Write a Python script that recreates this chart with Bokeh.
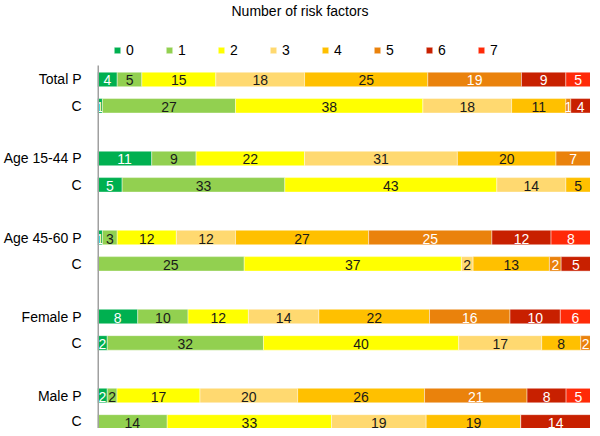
from bokeh.plotting import figure
from bokeh.models import ColumnDataSource, Range1d, FixedTicker, Legend, LegendItem
from bokeh.embed import file_html
from bokeh.resources import INLINE
from bokeh.core.properties import value

# ---- data ----
row_labels = ["Total P", "C", "Age 15-44 P", "C", "Age 45-60 P", "C",
              "Female P", "C", "Male P", "C"]
row_pos = [0, 1, 3, 4, 6, 7, 9, 10, 12, 13]
factors = ["0", "1", "2", "3", "4", "5", "6", "7"]
rf0 = [4, 1, 11, 5, 1, 0, 8, 2, 2, 0]
rf1 = [5, 27, 9, 33, 3, 25, 10, 32, 2, 14]
rf2 = [15, 38, 22, 43, 12, 37, 12, 40, 17, 33]
rf3 = [18, 18, 31, 14, 12, 2, 14, 17, 20, 19]
rf4 = [25, 11, 20, 5, 27, 13, 22, 8, 26, 19]
rf5 = [19, 1, 7, 0, 25, 2, 16, 2, 21, 0]
rf6 = [9, 4, 0, 0, 12, 5, 10, 0, 8, 14]
rf7 = [5, 0, 0, 0, 8, 0, 6, 0, 5, 0]
series = [rf0, rf1, rf2, rf3, rf4, rf5, rf6, rf7]
colors = ["#00B050", "#92D050", "#FFFF00", "#FFD970",
          "#FFC000", "#EA820C", "#C82000", "#FF2A08"]
label_colors = ["white", "#1a1a1a", "#1a1a1a", "#1a1a1a",
                "#1a1a1a", "white", "white", "white"]

FONT = "Liberation Sans"
Y_TOP, Y_BOTTOM = -2.20, 13.25      # frame extent (room for legend row)
AXIS_TOP = -0.53                    # where the category axis line starts

p = figure(width=590, height=428,
           x_range=Range1d(0, 100), y_range=Range1d(Y_BOTTOM, Y_TOP),
           output_backend="svg", toolbar_location=None,
           min_border_left=88, min_border_right=0,
           min_border_top=21, min_border_bottom=0)

totals = [sum(s[i] for s in series) for i in range(len(row_pos))]
cum = [0.0] * len(row_pos)
renderers = []
for k, s in enumerate(series):
    left = [cum[i] / totals[i] * 100 for i in range(len(row_pos))]
    right = [(cum[i] + s[i]) / totals[i] * 100 for i in range(len(row_pos))]
    cum = [cum[i] + s[i] for i in range(len(row_pos))]
    src = ColumnDataSource(dict(y=row_pos, left=left, right=right))
    r = p.hbar(y="y", left="left", right="right", height=0.55, source=src,
               fill_color=colors[k], line_color="white", line_width=0.6,
               line_alpha=0.7)
    renderers.append(r)
    idx = [i for i in range(len(row_pos)) if s[i] > 0]
    tsrc = ColumnDataSource(dict(
        x=[(left[i] + right[i]) / 2 for i in idx],
        y=[row_pos[i] for i in idx],
        t=[str(s[i]) for i in idx]))
    p.text(x="x", y="y", text="t", source=tsrc, text_align="center",
           text_baseline="middle", y_offset=1,
           text_font=value(FONT), text_font_size="14px",
           text_color=label_colors[k])

# category axis line (only along the bar area)
p.segment(x0=[0], y0=[AXIS_TOP], x1=[0], y1=[Y_BOTTOM],
          line_color="#a0a0a0", line_width=3)

p.xaxis.visible = False
p.xgrid.visible = False
p.ygrid.visible = False
p.outline_line_color = None

ax = p.yaxis[0]
ax.ticker = FixedTicker(ticks=row_pos)
ax.major_label_overrides = {pos: lab for pos, lab in zip(row_pos, row_labels)}
ax.major_tick_line_color = None
ax.minor_tick_line_color = None
ax.axis_line_color = None
ax.major_label_standoff = 10
ax.major_label_text_font = FONT
ax.major_label_text_font_size = "14px"
ax.major_label_text_color = "black"

items = [LegendItem(label=f, renderers=[r]) for f, r in zip(factors, renderers)]
legend = Legend(items=items, orientation="horizontal", location=(16, 370),
                glyph_width=8, glyph_height=8, label_standoff=5,
                spacing=19, label_width=20, padding=4, margin=0,
                border_line_color=None, background_fill_alpha=0,
                label_text_font=FONT, label_text_font_size="14px",
                label_text_color="black")
p.add_layout(legend, "center")

p.title.text = "Number of risk factors"
p.title.align = "left"
p.title.offset = 134
p.title.standoff = 2
p.title.vertical_align = "top"
p.title.text_font = FONT
p.title.text_font_size = "14px"
p.title.text_font_style = "normal"
p.title.text_color = "black"

open("out.html", "w").write(file_html(p, INLINE))
